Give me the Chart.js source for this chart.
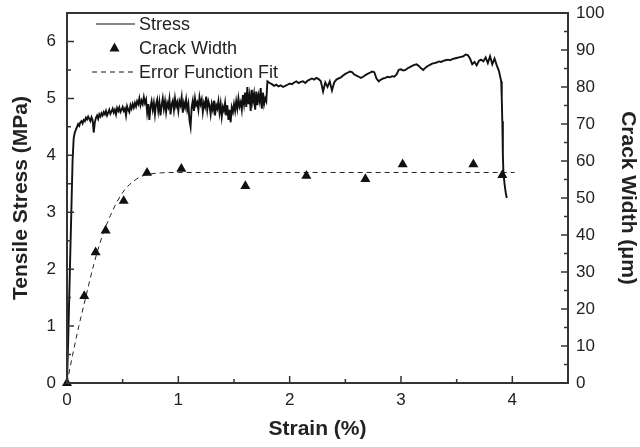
<!DOCTYPE html>
<html lang="en">
<head>
    <meta charset="UTF-8">
    <title>Stress and crack width vs strain</title>
    <script src="https://cdn.jsdelivr.net/npm/chart.js"></script>
    <style>
        body { margin: 0; background: #fff; }
        #chart { display: block; }
    </style>
</head>
<body>
    <canvas id="chart" width="640" height="447"></canvas>
    <script>
        // Stress curve (strain %, MPa)
        const stressStrain = [
            0, 0.01, 0.02, 0.03, 0.04, 0.05, 0.06, 0.07, 0.08, 0.09,
            0.10, 0.11, 0.12, 0.13, 0.14, 0.15, 0.16, 0.17, 0.18, 0.19,
            0.20, 0.21, 0.22, 0.23, 0.24, 0.25, 0.26, 0.27, 0.28, 0.29,
            0.30, 0.31, 0.32, 0.33, 0.34, 0.35, 0.36, 0.37, 0.38, 0.39,
            0.40, 0.41, 0.42, 0.43, 0.44, 0.45, 0.46, 0.47, 0.48, 0.49,
            0.50, 0.51, 0.52, 0.53, 0.54, 0.55, 0.56, 0.57, 0.58, 0.59,
            0.60, 0.61, 0.62, 0.63, 0.64, 0.65, 0.66, 0.67, 0.68, 0.69,
            0.70, 0.71, 0.72, 0.73, 0.74, 0.75, 0.76, 0.77, 0.78, 0.79,
            0.80, 0.81, 0.82, 0.83, 0.84, 0.85, 0.86, 0.87, 0.88, 0.89,
            0.90, 0.91, 0.92, 0.93, 0.94, 0.95, 0.96, 0.97, 0.98, 0.99,
            1.00, 1.01, 1.02, 1.03, 1.04, 1.05, 1.06, 1.07, 1.08, 1.09,
            1.10, 1.11, 1.12, 1.13, 1.14, 1.15, 1.16, 1.17, 1.18, 1.19,
            1.20, 1.21, 1.22, 1.23, 1.24, 1.25, 1.26, 1.27, 1.28, 1.29,
            1.30, 1.31, 1.32, 1.33, 1.34, 1.35, 1.36, 1.37, 1.38, 1.39,
            1.40, 1.41, 1.42, 1.43, 1.44, 1.45, 1.46, 1.47, 1.48, 1.49,
            1.50, 1.51, 1.52, 1.53, 1.54, 1.55, 1.56, 1.57, 1.58, 1.59,
            1.60, 1.61, 1.62, 1.63, 1.64, 1.65, 1.66, 1.67, 1.68, 1.69,
            1.70, 1.71, 1.72, 1.73, 1.74, 1.75, 1.76, 1.77, 1.78, 1.79,
            1.80, 1.82, 1.84, 1.86, 1.88, 1.90, 1.92, 1.94, 1.96, 1.98,
            2.00, 2.02, 2.04, 2.06, 2.08, 2.10, 2.12, 2.14, 2.16, 2.18,
            2.20, 2.22, 2.24, 2.26, 2.28, 2.30, 2.32, 2.34, 2.36, 2.38,
            2.40, 2.42, 2.44, 2.46, 2.48, 2.50, 2.52, 2.54, 2.56, 2.58,
            2.60, 2.62, 2.64, 2.66, 2.68, 2.70, 2.72, 2.74, 2.76, 2.78,
            2.80, 2.82, 2.84, 2.86, 2.88, 2.90, 2.92, 2.94, 2.96, 2.98,
            3.00, 3.02, 3.04, 3.06, 3.08, 3.10, 3.12, 3.14, 3.16, 3.18,
            3.20, 3.22, 3.24, 3.26, 3.28, 3.30, 3.32, 3.34, 3.36, 3.38,
            3.40, 3.42, 3.44, 3.46, 3.48, 3.50, 3.52, 3.54, 3.56, 3.58,
            3.60, 3.62, 3.64, 3.66, 3.68, 3.70, 3.72, 3.74, 3.76, 3.78,
            3.80, 3.82, 3.84, 3.86, 3.88, 3.90, 3.905, 3.91, 3.915, 3.92,
            3.93, 3.94, 3.95
        ];
        const stressValues = [
            0, 0.7, 1.5, 2.3, 3.1, 3.9, 4.3, 4.4, 4.45, 4.5,
            4.55, 4.52, 4.58, 4.6, 4.56, 4.62, 4.6, 4.66, 4.63, 4.68,
            4.64, 4.6, 4.67, 4.62, 4.4, 4.58, 4.66, 4.7, 4.64, 4.72,
            4.68, 4.74, 4.7, 4.76, 4.72, 4.78, 4.7, 4.75, 4.8, 4.73,
            4.77, 4.82, 4.75, 4.8, 4.72, 4.83, 4.78, 4.84, 4.76, 4.8,
            4.85, 4.78, 4.82, 4.7, 4.86, 4.8, 4.76, 4.88, 4.82, 4.9,
            4.84, 4.92, 4.86, 4.95, 4.9, 5.0, 4.88, 4.96, 4.9, 5.02,
            4.92, 4.98, 4.75, 4.9, 4.62, 4.85, 4.95, 4.8, 4.92, 4.72,
            4.9, 4.98, 4.78, 4.93, 4.7, 4.88, 5.0, 4.82, 4.95, 4.76,
            4.92, 4.85, 4.99, 4.72, 4.9, 4.96, 4.8, 5.0, 4.86, 4.93,
            4.78, 4.95, 4.88, 5.02, 4.75, 4.92, 4.84, 4.98, 4.8, 4.9,
            4.62, 4.5, 4.85, 4.96, 4.78, 5.0, 4.88, 4.93, 4.8, 5.02,
            4.9, 4.98, 4.76, 4.92, 4.85, 5.03, 4.8, 4.95, 4.88, 4.72,
            4.9, 4.8, 4.96, 4.7, 4.88, 4.82, 4.95, 4.75, 4.9, 4.68,
            4.85, 4.78, 4.92, 4.7, 4.88, 4.62, 4.8, 4.58, 4.84, 4.76,
            4.9, 4.78, 4.95, 4.82, 5.0, 4.86, 4.93, 4.8, 5.06, 4.9,
            5.1, 4.85, 5.2, 4.9, 5.05, 4.78, 5.15, 4.95, 5.08, 4.8,
            5.12, 4.88, 5.05, 4.95, 5.18, 4.82, 5.1, 4.9, 5.0, 4.95,
            5.3, 5.27, 5.25, 5.22, 5.24, 5.21, 5.23, 5.2, 5.22, 5.24,
            5.26, 5.25, 5.28, 5.3, 5.27, 5.29, 5.3, 5.27, 5.31, 5.33,
            5.35, 5.33, 5.36, 5.34, 5.3, 5.12, 5.28, 5.2, 5.3, 5.14,
            5.28, 5.33, 5.35, 5.37, 5.4, 5.43, 5.45, 5.47, 5.46, 5.42,
            5.4, 5.38, 5.36, 5.38, 5.41, 5.43, 5.45, 5.47, 5.46, 5.35,
            5.3, 5.33, 5.35, 5.36, 5.38, 5.37, 5.39, 5.38, 5.42, 5.5,
            5.51, 5.49, 5.5, 5.53, 5.55, 5.57, 5.59, 5.6, 5.57, 5.53,
            5.5, 5.54, 5.57, 5.59, 5.61, 5.62, 5.63, 5.65, 5.64, 5.66,
            5.67, 5.68, 5.67, 5.69, 5.7, 5.71, 5.72, 5.73, 5.74, 5.77,
            5.76, 5.7, 5.6, 5.64, 5.58, 5.66, 5.68, 5.65, 5.72, 5.62,
            5.74, 5.6, 5.7, 5.58, 5.48, 5.3, 5.0, 4.6, 4.0, 3.7,
            3.5, 3.35, 3.25
        ];

        // Crack width measurements (strain %, um)
        const crackStrain = [0, 0.155, 0.257, 0.347, 0.509, 0.719, 1.027, 1.602, 2.15, 2.68, 3.015, 3.65, 3.91];
        const crackWidth = [0, 23.5, 35.3, 41.2, 49.2, 56.8, 57.9, 53.2, 56.0, 55.1, 59.1, 59.1, 56.2];

        // Error function fit as drawn (strain %, um)
        const fitStrain = [0, 0.05, 0.105, 0.164, 0.24, 0.314, 0.389, 0.45, 0.52, 0.6, 0.674, 0.75, 0.85, 1.0, 4.02];
        const fitWidth = [0, 7.5, 15.2, 22.6, 32.0, 39.5, 45.2, 49.0, 52.3, 54.6, 55.9, 56.5, 56.8, 56.9, 56.9];

        // tick values
        const xTicks = [0, 1, 2, 3, 4];
        const xMinorTicks = [0.5, 1.5, 2.5, 3.5];
        const yTicks = [0, 1, 2, 3, 4, 5, 6];
        const yMinorTicks = [0.5, 1.5, 2.5, 3.5, 4.5, 5.5];
        const y2Ticks = [0, 10, 20, 30, 40, 50, 60, 70, 80, 90, 100];
        const y2MinorTicks = [5, 15, 25, 35, 45, 55, 65, 75, 85, 95];

        const legendItems = ['Stress', 'Crack Width', 'Error Function Fit'];

        const ink = '#222';
        const axisColor = '#333';

        function pairs(xs, ys) {
            return xs.map((x, i) => ({ x: x, y: ys[i] }));
        }

        // ticks drawn inward, plus the plot frame
        const frameAndTicks = {
            id: 'frameAndTicks',
            afterDatasetsDraw(chart) {
                const ctx = chart.ctx;
                const a = chart.chartArea;
                const sx = chart.scales.x, sy = chart.scales.y, sy2 = chart.scales.y2;
                ctx.save();
                ctx.strokeStyle = axisColor;
                ctx.lineWidth = 1.5;
                ctx.beginPath();
                xTicks.forEach(v => { const p = sx.getPixelForValue(v); ctx.moveTo(p, a.bottom); ctx.lineTo(p, a.bottom - 7); });
                xMinorTicks.forEach(v => { const p = sx.getPixelForValue(v); ctx.moveTo(p, a.bottom); ctx.lineTo(p, a.bottom - 4); });
                yTicks.forEach(v => { const p = sy.getPixelForValue(v); ctx.moveTo(a.left, p); ctx.lineTo(a.left + 7, p); });
                yMinorTicks.forEach(v => { const p = sy.getPixelForValue(v); ctx.moveTo(a.left, p); ctx.lineTo(a.left + 4, p); });
                y2Ticks.forEach(v => { const p = sy2.getPixelForValue(v); ctx.moveTo(a.right, p); ctx.lineTo(a.right - 7, p); });
                y2MinorTicks.forEach(v => { const p = sy2.getPixelForValue(v); ctx.moveTo(a.right, p); ctx.lineTo(a.right - 4, p); });
                ctx.stroke();
                ctx.lineWidth = 2;
                ctx.strokeRect(a.left, a.top, a.right - a.left, a.bottom - a.top);
                ctx.restore();
            }
        };

        // legend in the top-left corner of the plot
        const innerLegend = {
            id: 'innerLegend',
            afterDraw(chart) {
                const ctx = chart.ctx;
                const a = chart.chartArea;
                const x0 = a.left + 27, x1 = a.left + 68, tx = a.left + 72;
                const rows = [a.top + 11, a.top + 35, a.top + 59];
                ctx.save();
                ctx.fillStyle = ink;
                ctx.strokeStyle = '#111';
                ctx.font = '18px "Liberation Sans", Arial, sans-serif';
                ctx.textBaseline = 'middle';
                legendItems.forEach((t, i) => ctx.fillText(t, tx, rows[i] + 1));
                ctx.lineWidth = 1.2;
                ctx.beginPath();
                ctx.moveTo(x0 + 2, rows[0]); ctx.lineTo(x1, rows[0]);
                ctx.stroke();
                ctx.setLineDash([5, 4]);
                ctx.lineWidth = 1;
                ctx.beginPath();
                ctx.moveTo(x0 - 2, rows[2]); ctx.lineTo(x1, rows[2]);
                ctx.stroke();
                ctx.setLineDash([]);
                const cx = (x0 + x1) / 2, cy = rows[1];
                ctx.fillStyle = '#111';
                ctx.beginPath();
                ctx.moveTo(cx, cy - 5.5); ctx.lineTo(cx + 5, cy + 3.5); ctx.lineTo(cx - 5, cy + 3.5);
                ctx.closePath();
                ctx.fill();
                ctx.restore();
            }
        };

        const tickFont = { family: '"Liberation Sans", Arial, sans-serif', size: 17 };
        const titleFont = { family: '"Liberation Sans", Arial, sans-serif', size: 21, weight: 'bold' };

        // fixed box sizes so the plot area lands where the reference has it
        function fixWidth(w) {
            return s => { s.width = w; s.paddingTop = 0; s.paddingBottom = 0; };
        }

        new Chart(document.getElementById('chart'), {
            type: 'scatter',
            data: {
                datasets: [
                    {
                        label: 'Crack Width',
                        data: pairs(crackStrain, crackWidth),
                        yAxisID: 'y2',
                        pointStyle: 'triangle',
                        pointRadius: 5.8,
                        backgroundColor: '#111',
                        borderColor: '#111',
                        borderWidth: 0,
                        clip: false
                    },
                    {
                        label: 'Error Function Fit',
                        data: pairs(fitStrain, fitWidth),
                        yAxisID: 'y2',
                        showLine: true,
                        cubicInterpolationMode: 'monotone',
                        pointRadius: 0,
                        borderColor: '#222',
                        borderWidth: 1,
                        borderDash: [5, 4]
                    },
                    {
                        label: 'Stress',
                        data: pairs(stressStrain, stressValues),
                        yAxisID: 'y',
                        showLine: true,
                        pointRadius: 0,
                        borderColor: '#111',
                        borderWidth: 1.9,
                        tension: 0
                    }
                ]
            },
            options: {
                responsive: false,
                animation: false,
                layout: { padding: { top: 13, left: 0, right: 0, bottom: 0 } },
                plugins: { legend: { display: false }, tooltip: { enabled: false } },
                scales: {
                    x: {
                        type: 'linear',
                        min: 0, max: 4.5,
                        afterBuildTicks: s => { s.ticks = xTicks.map(v => ({ value: v })); },
                        afterFit: s => { s.height = 64; s.paddingLeft = 0; s.paddingRight = 0; },
                        grid: { display: false, drawTicks: false },
                        border: { display: false },
                        ticks: { color: ink, font: tickFont, padding: 7, maxRotation: 0 },
                        title: { display: true, text: 'Strain (%)', color: ink, font: titleFont, padding: { top: 0, bottom: 5 } }
                    },
                    y: {
                        position: 'left',
                        min: 0, max: 6.5,
                        afterBuildTicks: s => { s.ticks = yTicks.map(v => ({ value: v })); },
                        afterFit: fixWidth(67),
                        grid: { display: false, drawTicks: false },
                        border: { display: false },
                        ticks: { color: ink, font: tickFont, padding: 11 },
                        title: { display: true, text: 'Tensile Stress (MPa)', color: ink, font: titleFont, padding: { top: 9, bottom: 0 } }
                    },
                    y2: {
                        position: 'right',
                        min: 0, max: 100,
                        afterBuildTicks: s => { s.ticks = y2Ticks.map(v => ({ value: v })); },
                        afterFit: fixWidth(72),
                        grid: { display: false, drawTicks: false },
                        border: { display: false },
                        ticks: { color: ink, font: tickFont, padding: 8 },
                        title: { display: true, text: 'Crack Width (\u03bcm)', color: ink, font: titleFont, padding: { top: 0, bottom: 0 } }
                    }
                }
            },
            plugins: [frameAndTicks, innerLegend]
        });
    </script>
</body>
</html>
